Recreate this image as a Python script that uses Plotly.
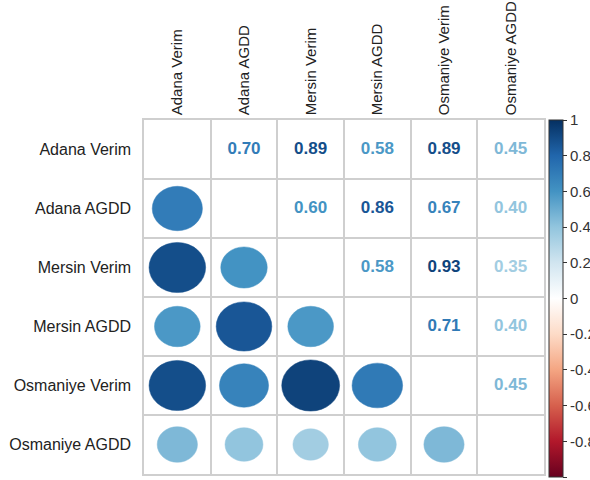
import plotly.graph_objects as go

# ---------------- data ----------------
labels = ["Adana Verim", "Adana AGDD", "Mersin Verim", "Mersin AGDD",
          "Osmaniye Verim", "Osmaniye AGDD"]

adana_verim    = [1.00, 0.70, 0.89, 0.58, 0.89, 0.45]
adana_agdd     = [0.70, 1.00, 0.60, 0.86, 0.67, 0.40]
mersin_verim   = [0.89, 0.60, 1.00, 0.58, 0.93, 0.35]
mersin_agdd    = [0.58, 0.86, 0.58, 1.00, 0.71, 0.40]
osmaniye_verim = [0.89, 0.67, 0.93, 0.71, 1.00, 0.45]
osmaniye_agdd  = [0.45, 0.40, 0.35, 0.40, 0.45, 1.00]

corr = [adana_verim, adana_agdd, mersin_verim, mersin_agdd,
        osmaniye_verim, osmaniye_agdd]

colorbar_ticks = [-1, -0.8, -0.6, -0.4, -0.2, 0, 0.2, 0.4, 0.6, 0.8, 1]

# corrplot RdBu palette (from -1 to 1)
palette = ["#67001F", "#B2182B", "#D6604D", "#F4A582", "#FDDBC7", "#FFFFFF",
           "#D1E5F0", "#92C5DE", "#4393C3", "#2166AC", "#053061"]


def hex_to_rgb(h):
    h = h.lstrip("#")
    return tuple(int(h[i:i + 2], 16) for i in (0, 2, 4))


def value_color(v):
    t = (v + 1) / 2 * (len(palette) - 1)
    i = min(int(t), len(palette) - 2)
    f = t - i
    a, b = hex_to_rgb(palette[i]), hex_to_rgb(palette[i + 1])
    c = [round(a[k] + (b[k] - a[k]) * f) for k in range(3)]
    return "rgb(%d,%d,%d)" % tuple(c)


n = len(labels)
colorscale = [[k / (len(palette) - 1), c] for k, c in enumerate(palette)]

fig = go.Figure()

# ellipses for the lower triangle
shapes = []
lx, ly, lv = [], [], []
for i in range(n):
    for j in range(n):
        if j < i:
            v = corr[i][j]
            r = 0.45 * abs(v) ** 0.5
            col = value_color(v)
            shapes.append(dict(type="circle", xref="x", yref="y",
                               x0=j + 1 - r, x1=j + 1 + r,
                               y0=i + 1 - r, y1=i + 1 + r,
                               fillcolor=col, line=dict(color=col, width=0.5),
                               layer="above"))
            lx.append(j + 1)
            ly.append(i + 1)
            lv.append(v)

# numbers for the upper triangle
ux, uy, ut, uc = [], [], [], []
for i in range(n):
    for j in range(n):
        if j > i:
            v = corr[i][j]
            ux.append(j + 1)
            uy.append(i + 1)
            ut.append("<b>%.2f</b>" % v)
            uc.append(value_color(v))

fig.add_trace(go.Scatter(
    x=ux, y=uy, mode="text", text=ut,
    textfont=dict(size=17, color=uc, family="Liberation Sans, Arial, sans-serif"),
    hoverinfo="skip", showlegend=False))

# invisible trace carrying the colour bar
fig.add_trace(go.Scatter(
    x=lx, y=ly, mode="markers",
    marker=dict(size=1, opacity=0, color=lv, colorscale=colorscale,
                cmin=-1, cmax=1, showscale=True,
                colorbar=dict(
                    thickness=14, lenmode="pixels", len=357,
                    x=1.0125, xanchor="left", xpad=0,
                    y=1, yanchor="top", ypad=0,
                    outlinewidth=1, outlinecolor="#333",
                    tickvals=colorbar_ticks,
                    ticktext=[("%g" % t) for t in colorbar_ticks],
                    ticks="outside", ticklen=4, tickcolor="#333",
                    tickfont=dict(size=15, color="#333",
                                  family="Liberation Sans, Arial, sans-serif"))),
    hoverinfo="skip", showlegend=False))

grid_vals = [k + 0.5 for k in range(n + 1)]

fig.update_layout(
    width=590, height=480,
    margin=dict(l=144, r=46, t=120, b=6, autoexpand=False),
    paper_bgcolor="white", plot_bgcolor="white",
    shapes=shapes,
    font=dict(family="Liberation Sans, Arial, sans-serif", color="#222"),
    xaxis=dict(range=[0.5, n + 0.5], side="top", tickvals=list(range(1, n + 1)),
               ticktext=labels, tickangle=-90, tickfont=dict(size=15, color="#222"),
               showgrid=False, zeroline=False, ticks="", ticklabelstandoff=0,
               showline=True, mirror=True, linecolor="#cfcfcf", linewidth=1.5,
               minor=dict(tickvals=grid_vals, showgrid=True,
                          gridcolor="#cfcfcf", gridwidth=1.5, ticks="")),
    yaxis=dict(range=[n + 0.5, 0.5], tickvals=list(range(1, n + 1)),
               ticktext=labels, tickfont=dict(size=16, color="#222"),
               showgrid=False, zeroline=False, ticks="", ticklabelstandoff=8,
               showline=True, mirror=True, linecolor="#cfcfcf", linewidth=1.5,
               minor=dict(tickvals=grid_vals, showgrid=True,
                          gridcolor="#cfcfcf", gridwidth=1.5, ticks="")),
)

fig.write_html("out.html")
